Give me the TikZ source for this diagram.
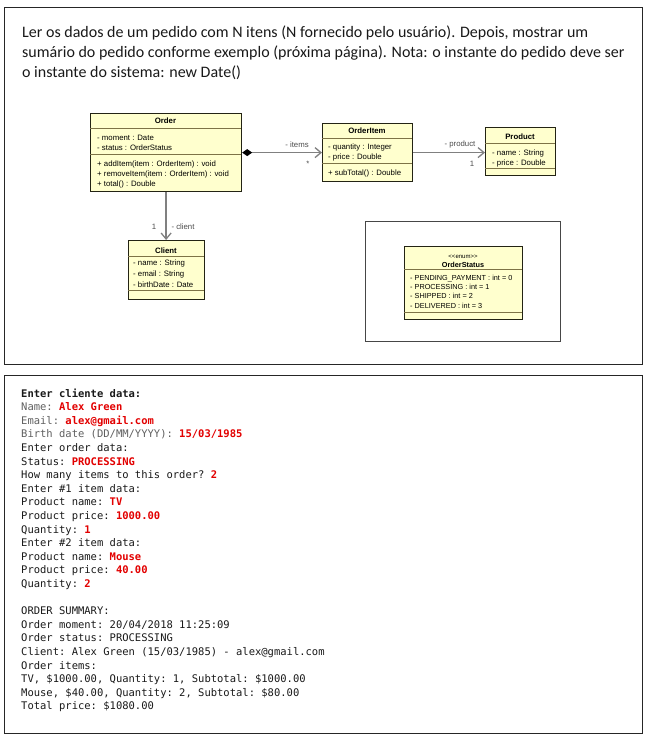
\documentclass[tikz,border=0pt]{standalone}
\usepackage{fontspec}
\setsansfont{Liberation Sans}
\setmonofont{DejaVu Sans Mono}
\newfontfamily\taskfont{Carlito}
\usepackage{tikz}
\usetikzlibrary{arrows.meta}
\usepackage{xcolor}
\definecolor{umlfill}{RGB}{255,255,206}
\definecolor{umlline}{RGB}{35,35,20}
\definecolor{umlsep}{RGB}{125,115,70}
\definecolor{assocgray}{RGB}{128,128,128}
\definecolor{inputred}{RGB}{226,0,0}
\definecolor{promptgray}{RGB}{95,95,95}
\definecolor{framegray}{RGB}{70,70,70}
\newcommand\umlfont{\sffamily\fontsize{7.8}{9}\selectfont}
\newcommand\enumfont{\sffamily\fontsize{7.3}{9}\selectfont}
\newcommand\consfont{\ttfamily\fontsize{10.5}{13.6}\selectfont}
\newcommand\inval[1]{\textcolor{inputred}{\bfseries #1}}
\newcommand\prompt[1]{\textcolor{promptgray}{#1}}

\begin{document}
\begin{tikzpicture}[
  x=1pt, y=-1pt,
  panel/.style={draw=black!85,line width=1.3pt,anchor=north west,inner sep=0pt},
  umlbox/.style={draw=umlline,fill=umlfill,line width=1.2pt,
                 anchor=north west,inner sep=0pt},
  sep/.style={draw=umlsep,line width=0.8pt},
  title/.style={font=\umlfont\bfseries,inner sep=0pt,anchor=base},
  member/.style={font=\umlfont,inner sep=0pt,anchor=base west},
  assoc/.style={draw=assocgray,line width=1.3pt},
  role/.style={font=\umlfont,text=black!70,inner sep=0pt,anchor=base},
  conline/.style={font=\consfont,text=black!90,inner sep=0pt,anchor=base west},
  taskline/.style={font=\taskfont\fontsize{16}{19}\selectfont,text=black!90,
                   inner sep=0pt,anchor=base west}
]
\useasboundingbox (0,0) rectangle (649,747);

%% ── Panels ──
\node[panel,minimum width=638pt,minimum height=357pt] (task) at (4,7) {};
\node[panel,minimum width=638pt,minimum height=358pt] (console) at (4,375) {};

%% ── Task text ──
\node[taskline] (task1) at (22,37.7)
  {Ler os dados de um pedido com N itens (N fornecido pelo usuário). Depois, mostrar um};
\node[taskline] (task2) at (22,57.3)
  {sumário do pedido conforme exemplo (próxima página). Nota: o instante do pedido deve ser};
\node[taskline] (task3) at (22,77) {o instante do sistema: new Date()};

%% ── Class boxes (top-left corners at explicit coordinates) ──
\node[umlbox,minimum width=151pt,minimum height=78pt] (order)   at (90,113)  {};
\node[umlbox,minimum width=90pt, minimum height=58pt] (item)    at (322,123) {};
\node[umlbox,minimum width=70pt, minimum height=48pt] (product) at (485,127) {};
\node[umlbox,minimum width=76pt, minimum height=59pt] (client)  at (128,240) {};

%% Order
\draw[sep] (90,128) -- (241,128);
\draw[sep] (90,154) -- (241,154);
\node[title] (order-t) at (165.5,123) {Order};
\foreach \txt [count=\k] in {- moment : Date, - status : OrderStatus}
  \node[member] (order-a\k) at (97,{130+10*\k}) {\txt};
\foreach \txt [count=\k] in {+ addItem(item : OrderItem) : void,
                             + removeItem(item : OrderItem) : void,
                             + total() : Double}
  \node[member] (order-m\k) at (97,{156+10*\k}) {\txt};

%% OrderItem
\draw[sep] (322,138) -- (412,138);
\draw[sep] (322,163) -- (412,163);
\node[title] (item-t) at (367,133) {OrderItem};
\foreach \txt [count=\k] in {- quantity : Integer, - price : Double}
  \node[member] (item-a\k) at (328,{139+10*\k}) {\txt};
\node[member] (item-m1) at (328,175) {+ subTotal() : Double};

%% Product
\draw[sep] (485,143) -- (555,143);
\draw[sep] (485,168) -- (555,168);
\node[title] (product-t) at (520,139) {Product};
\foreach \txt [count=\k] in {- name : String, - price : Double}
  \node[member] (product-a\k) at (492,{145+10*\k}) {\txt};

%% Client
\draw[sep] (128,256) -- (204,256);
\draw[sep] (128,290) -- (204,290);
\node[title] (client-t) at (166,253) {Client};
\foreach \txt [count=\k] in {- name : String, - email : String, - birthDate : Date}
  \node[member] (client-a\k) at (133,{254+11*\k}) {\txt};

%% ── Associations ──
\draw[assoc,{Diamond[length=10pt,width=7pt,color=black]}-{Straight Barb[length=6pt,width=10pt]}]
  (order.east) -- (item.west);
\draw[assoc,-{Straight Barb[length=6pt,width=10pt]}]
  (item.east) -- (item.east -| product.west);
\draw[assoc,-{Straight Barb[length=6pt,width=10pt]}]
  (order.south) -- (order.south |- client.north);

\node[role] (items-r)   at (297,147) {- items};
\node[role] (items-m)   at (308,166) {*};
\node[role] (product-r) at (460,146) {- product};
\node[role] (product-m) at (472,166) {1};
\node[role] (client-m)  at (154,229) {1};
\node[role] (client-r)  at (183,229) {- client};

%% ── Enum in its own frame ──
\node[draw=framegray,line width=0.9pt,anchor=north west,inner sep=0pt,
      minimum width=195pt,minimum height=120pt] (enumframe) at (365,221) {};
\node[umlbox,minimum width=118pt,minimum height=73pt] (status) at (404,246) {};
\draw[sep] (404,269) -- (522,269);
\draw[sep] (404,312) -- (522,312);
\node[inner sep=0pt,anchor=base,font=\sffamily\fontsize{6}{7}\selectfont]
  (status-s) at (463,258) {{<}{<}enum{>}{>}};
\node[title,font=\enumfont\bfseries] (status-t) at (463,267) {OrderStatus};
\foreach \txt [count=\k] in {- PENDING\_PAYMENT : int = 0, - PROCESSING : int = 1,
                             - SHIPPED : int = 2, - DELIVERED : int = 3}
  \node[member,font=\enumfont] (status-a\k) at (410,{270.7+9.4*\k}) {\txt};

%% ── Console: input part ──
\foreach \txt [count=\k] in {
    {\textbf{Enter cliente data:}},
    {\prompt{Name:} \inval{Alex Green}},
    {\prompt{Email:} \inval{alex@gmail.com}},
    {\prompt{Birth date (DD/MM/YYYY):} \inval{15/03/1985}},
    {Enter order data:},
    {Status: \inval{PROCESSING}},
    {How many items to this order? \inval{2}},
    {Enter \#1 item data:},
    {Product name: \inval{TV}},
    {Product price: \inval{1000.00}},
    {Quantity: \inval{1}},
    {Enter \#2 item data:},
    {Product name: \inval{Mouse}},
    {Product price: \inval{40.00}},
    {Quantity: \inval{2}}}
  \node[conline] (in\k) at (21,{397+13.6*(\k-1)}) {\txt};

%% ── Console: summary part ──
\foreach \txt [count=\k] in {
    {ORDER SUMMARY:},
    {Order moment: 20/04/2018 11:25:09},
    {Order status: PROCESSING},
    {Client: Alex Green (15/03/1985) - alex@gmail.com},
    {Order items:},
    {TV, \$1000.00, Quantity: 1, Subtotal: \$1000.00},
    {Mouse, \$40.00, Quantity: 2, Subtotal: \$80.00},
    {Total price: \$1080.00}}
  \node[conline] (out\k) at (21,{614.6+13.6*(\k-1)}) {\txt};

\end{tikzpicture}
\end{document}
